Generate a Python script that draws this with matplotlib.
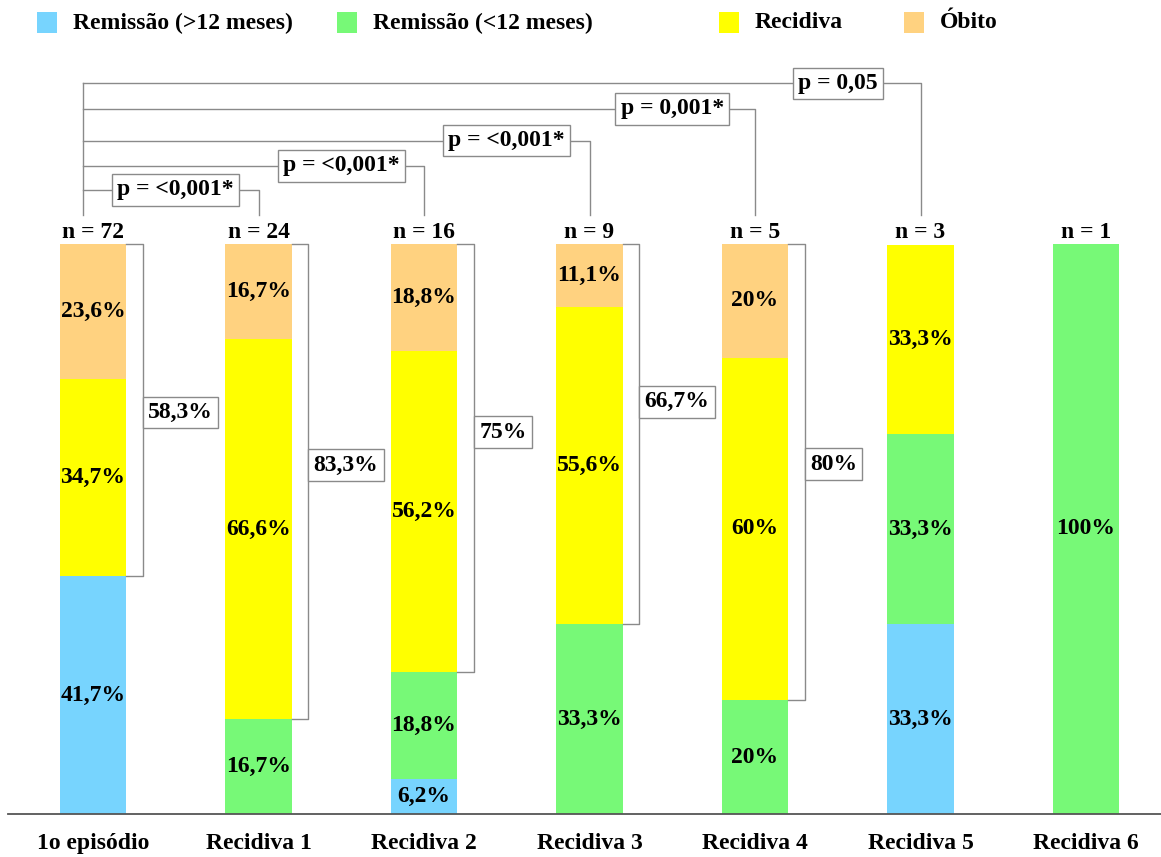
import matplotlib.pyplot as plt
from matplotlib.patches import Rectangle

# ---- dados ----
categorias = ["1o episódio", "Recidiva 1", "Recidiva 2", "Recidiva 3",
              "Recidiva 4", "Recidiva 5", "Recidiva 6"]
n_casos = [72, 24, 16, 9, 5, 3, 1]

remissao_longa = [41.7, 0, 6.2, 0, 0, 33.3, 0]     # Remissão (>12 meses)
remissao_curta = [0, 16.7, 18.8, 33.3, 20, 33.3, 100]  # Remissão (<12 meses)
recidiva = [34.7, 66.6, 56.2, 55.6, 60, 33.3, 0]
obito = [23.6, 16.7, 18.8, 11.1, 20, 0, 0]

# comparações com o 1o episódio (índice da barra comparada, texto)
comparacoes = [1, 2, 3, 4, 5]
p_valores = ["p = <0,001*", "p = <0,001*", "p = <0,001*", "p = 0,001*", "p = 0,05"]

nomes = ["Remissão (>12 meses)", "Remissão (<12 meses)", "Recidiva", "Óbito"]
cores = ["#77D4FE", "#77F977", "#FFFF00", "#FFD280"]

# ---- estilo ----
plt.rcParams['font.family'] = ['Liberation Serif', 'DejaVu Serif']
plt.rcParams['font.weight'] = 'bold'
FS = 17
CINZA = "#8a8a8a"


def fmt(v):
    s = f"{v:.1f}".replace(".", ",")
    if s.endswith(",0"):
        s = s[:-2]
    return s + "%"


fig = plt.figure(figsize=(11.61, 8.57), dpi=100)
ax = fig.add_axes([0, 0, 1, 1])
ax.set_xlim(-0.562, 6.453)
ax.set_ylim(-7.54, 142.8)
ax.axis("off")

x = list(range(len(categorias)))
largura = 0.4

# barras empilhadas
base = [0] * len(x)
for nome, valores, cor in zip(nomes, [remissao_longa, remissao_curta, recidiva, obito], cores):
    ax.bar(x, valores, largura, bottom=base, color=cor, linewidth=0)
    for i, v in enumerate(valores):
        if v > 0:
            ax.text(i, base[i] + v / 2, fmt(v), ha="center", va="center",
                    fontsize=FS, fontweight="bold")
    base = [b + v for b, v in zip(base, valores)]

# linha de base
ax.plot([-0.513, 6.453], [0, 0], color="#555555", lw=1.3, clip_on=False)

# rótulos das categorias e n
for i, (cat, n) in enumerate(zip(categorias, n_casos)):
    ax.text(i, -5.2, cat, ha="center", va="center", fontsize=FS, fontweight="bold")
    ax.text(i, 102.0, f"n = {n}", ha="center", va="center", fontsize=FS, fontweight="bold")

# chaves à direita: Recidiva + Óbito
altura_rotulo = [70.4, 61.2, 67.0, 72.3, 61.4]
caixa = dict(boxstyle="square,pad=0.22", fc="white", ec=CINZA, lw=1.0)
for i, yl in zip(range(5), altura_rotulo):
    topo = 100
    fundo = remissao_longa[i] + remissao_curta[i]
    xb = i + largura / 2 + 0.1
    ax.plot([i + largura / 2, xb, xb, i + largura / 2], [topo, topo, fundo, fundo],
            color=CINZA, lw=1.0)
    ax.text(xb + 0.033, yl, fmt(recidiva[i] + obito[i]), ha="left", va="center",
            fontsize=FS, fontweight="bold", bbox=caixa)

# comparações com o 1o episódio
niveis = [109.5, 113.7, 118.1, 123.7, 128.2]
x0 = -0.06
ax.plot([x0, x0], [105.1, niveis[-1]], color=CINZA, lw=1.0)
for alvo, nivel, ptxt in zip(comparacoes, niveis, p_valores):
    ax.plot([x0, alvo, alvo], [nivel, nivel, 105.1], color=CINZA, lw=1.0)
    ax.text(alvo - 0.5, nivel, ptxt, ha="center", va="center",
            fontsize=FS, fontweight="bold", bbox=caixa)

# legenda
W, H = 1161, 857
pos_quadrado = [37, 337, 719, 904]
for xq, nome, cor in zip(pos_quadrado, nomes, cores):
    fig.add_artist(Rectangle((xq / W, 1 - 33 / H), 20 / W, 21 / H,
                             transform=fig.transFigure, fc=cor, ec="none"))
    fig.text((xq + 36) / W, 1 - 23 / H, nome, ha="left", va="center",
             fontsize=FS, fontweight="bold")

fig.savefig("out.png", dpi=100, facecolor="white")
